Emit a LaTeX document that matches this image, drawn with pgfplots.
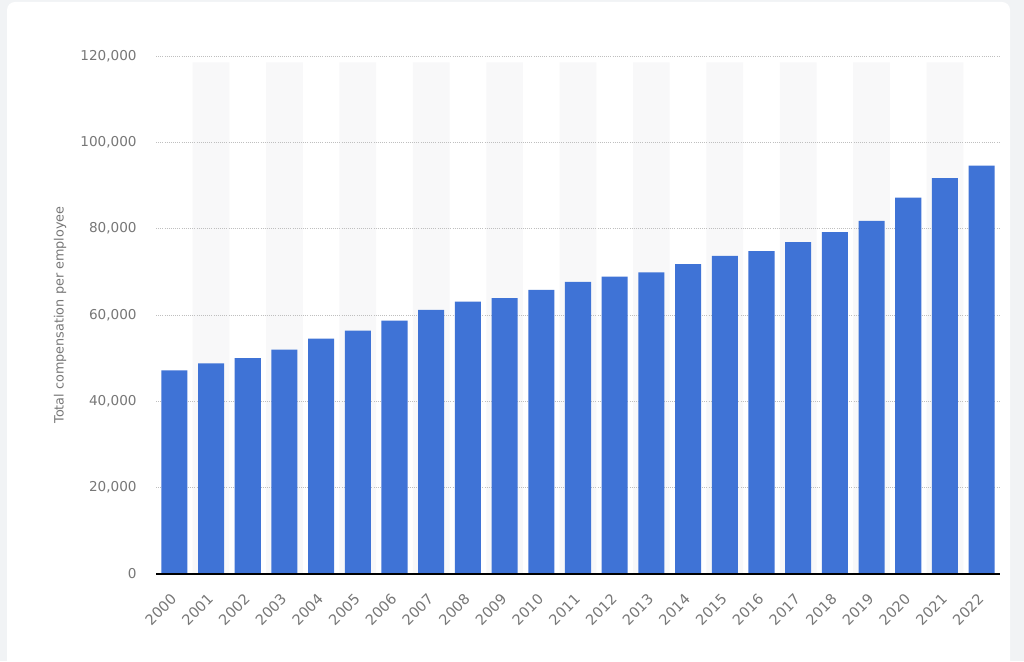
\documentclass[border=0pt]{standalone}
\usepackage{fontspec}
\setmainfont{DejaVu Sans}
\usepackage{pgfplots}
\pgfplotsset{compat=1.18}
\definecolor{barblue}{HTML}{3F73D6}
\definecolor{band}{HTML}{F8F8F9}
\definecolor{ticktext}{HTML}{777777}
\definecolor{frame}{HTML}{F1F3F5}

\begin{document}
\begin{tikzpicture}
% page = 1024 x 661 px, 1 px = 0.75pt
\useasboundingbox (0,0) rectangle (768pt,495.75pt);
\fill[frame] (0,0) rectangle (768pt,495.75pt);
\fill[white] (5.25pt,0pt) -- (5.25pt,488.25pt) arc[start angle=180, end angle=90, radius=6pt]
	-- (751.5pt,494.25pt) arc[start angle=90, end angle=0, radius=6pt] -- (757.5pt,0pt) -- cycle;
\begin{axis}[
	at={(117pt,65.25pt)}, anchor=south west,
	scale only axis, width=633pt, height=388.5pt,
	xmin=-0.5, xmax=22.5,
	ymin=0, ymax=120000,
	axis lines*=left,
	y axis line style={draw=none},
	x axis line style={black, line width=1pt},
	axis on top,
	tick style={draw=none},
	xtick={0,...,22},
	xticklabels={2000,2001,2002,2003,2004,2005,2006,2007,2008,2009,2010,2011,
		2012,2013,2014,2015,2016,2017,2018,2019,2020,2021,2022},
	ytick={0,20000,...,120000},
	scaled y ticks=false,
	yticklabel style={/pgf/number format/fixed, /pgf/number format/1000 sep={,},
		/pgf/number format/assume math mode=true, xshift=-11pt},
	ticklabel style={font=\fontsize{10.2}{12}\selectfont, text=ticktext},
	xticklabel style={xshift=2pt, yshift=-14.5pt, rotate=45, anchor=east,
		font=\fontsize{10.8}{12}\selectfont},
	ylabel={Total compensation per employee},
	every axis y label/.style={at={(axis description cs:-0.1137,0.5)}, rotate=90,
		anchor=center, font=\fontsize{9.6}{12}\selectfont, text=ticktext},
	grid line/.style={densely dotted, gray!50, line width=0.6pt, forget plot},
]
	% alternating background bands
	\addplot[ybar, bar width=1, bar shift=0pt, fill=band, draw=none]
		coordinates {(1,118500) (3,118500) (5,118500) (7,118500) (9,118500) (11,118500)
			(13,118500) (15,118500) (17,118500) (19,118500) (21,118500)};

	% horizontal grid lines (drawn between bands and bars)
	\addplot[grid line] coordinates {(-0.5,20000) (22.5,20000)};
	\addplot[grid line] coordinates {(-0.5,40000) (22.5,40000)};
	\addplot[grid line] coordinates {(-0.5,60000) (22.5,60000)};
	\addplot[grid line] coordinates {(-0.5,80000) (22.5,80000)};
	\addplot[grid line] coordinates {(-0.5,100000) (22.5,100000)};
	\addplot[grid line] coordinates {(-0.5,120000) (22.5,120000)};

	\addplot[ybar, bar width=0.71, bar shift=0pt, fill=barblue, draw=none] coordinates {
		(0,47200) (1,48800) (2,50000) (3,52000) (4,54500) (5,56400)
		(6,58700) (7,61200) (8,63100) (9,63900) (10,65800) (11,67700)
		(12,68900) (13,69900) (14,71800) (15,73700) (16,74800) (17,76900)
		(18,79200) (19,81800) (20,87200) (21,91700) (22,94600)
	};
\end{axis}
\end{tikzpicture}
\end{document}
